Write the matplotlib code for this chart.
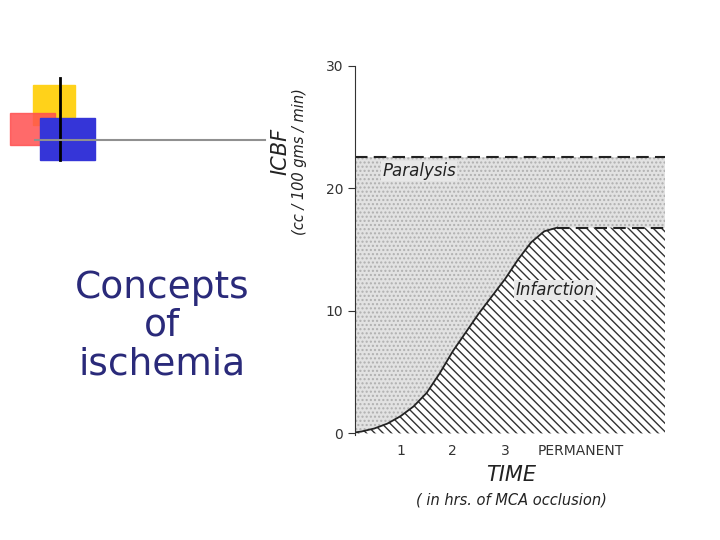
import numpy as np
import matplotlib.pyplot as plt
from matplotlib.patches import Rectangle

# data
paralysis_level = 22.6
inf_x = [0.0, 0.25, 0.5, 0.75, 1.0, 1.25, 1.5, 1.75, 2.0, 2.5, 3.0, 3.25, 3.5, 3.75, 4.0]
inf_y = [0.0, 0.15, 0.4, 0.8, 1.4, 2.2, 3.3, 4.9, 6.7, 9.8, 12.6, 14.2, 15.6, 16.5, 16.8]
plateau_x = [4.0, 6.1]
plateau_y = [16.8, 16.8]
xtick_pos = [1, 2, 3, 4.45]
xtick_lab = ['1', '2', '3', 'PERMANENT']
ytick_pos = [0, 10, 20, 30]

fig = plt.figure(figsize=(7.2, 5.4), dpi=100)

# slide decoration
deco = fig.add_axes([0, 0, 1, 1])
deco.set_xlim(0, 720)
deco.set_ylim(540, 0)
deco.axis('off')
deco.add_patch(Rectangle((33, 85), 42, 40, color='#ffd21a'))
deco.add_patch(Rectangle((10, 113), 45, 32, color='#ff5050', alpha=0.85))
deco.add_patch(Rectangle((40, 118), 55, 42, color='#3535d8'))
deco.plot([60, 60], [78, 160], color='black', lw=2)
deco.plot([35, 265], [140, 140], color='#909090', lw=1.5)
deco.text(162, 326, 'Concepts\nof\nischemia', ha='center', va='center',
          fontsize=27, color='#2a2a7a', linespacing=1.08)

ax = fig.add_axes([0.493, 0.194, 0.43, 0.684])
ax.set_xlim(0.13, 6.05)
ax.set_ylim(-0.15, 30)

xs = np.array(inf_x + plateau_x[1:])
ys = np.array(inf_y + plateau_y[1:])
# stippled region up to paralysis
ax.fill_between([0.13, 6.1], 0, paralysis_level, facecolor='#e2e2e2',
                hatch='....', edgecolor='#b0b0b0', lw=0)
# hatched infarction region
ax.fill_between(xs, 0, ys, facecolor='white', hatch='\\\\\\\\',
                edgecolor='#333333', lw=0)
ax.plot(inf_x, inf_y, color='#222222', lw=1.3)
ax.plot(plateau_x, plateau_y, color='#222222', lw=1.5, ls=(0, (6, 3)))
ax.plot([0.13, 6.1], [paralysis_level] * 2, color='#222222', lw=1.5, ls=(0, (6, 3)))

ax.text(0.65, 21.0, 'Paralysis', fontsize=12, style='italic', color='#222222',
        bbox=dict(facecolor='#e8e8e8', edgecolor='none', pad=1))
ax.text(3.2, 11.3, 'Infarction', fontsize=12, style='italic', color='#222222',
        bbox=dict(facecolor='#e8e8e8', edgecolor='none', pad=1))

for s in ['top', 'right', 'bottom']:
    ax.spines[s].set_visible(False)
ax.spines['left'].set_color('#333333')
ax.set_yticks(ytick_pos)
ax.set_yticklabels([str(v) for v in ytick_pos], fontsize=10, color='#333333')
ax.set_xticks(xtick_pos)
ax.set_xticklabels(xtick_lab, fontsize=10, color='#333333')
ax.tick_params(axis='x', length=0, pad=6)
ax.tick_params(axis='y', length=5, color='#333333')

fig.text(0.39, 0.72, 'ICBF', rotation=90, fontsize=15, style='italic',
         ha='center', va='center', color='#222222')
fig.text(0.416, 0.70, '(cc / 100 gms / min)', rotation=90, fontsize=10.5,
         style='italic', ha='center', va='center', color='#222222')
fig.text(0.71, 0.11, 'TIME', fontsize=15, style='italic', ha='center', color='#222222')
fig.text(0.71, 0.065, '( in hrs. of MCA occlusion)', fontsize=10.5, style='italic',
         ha='center', color='#222222')

fig.savefig('out.png', dpi=100)
